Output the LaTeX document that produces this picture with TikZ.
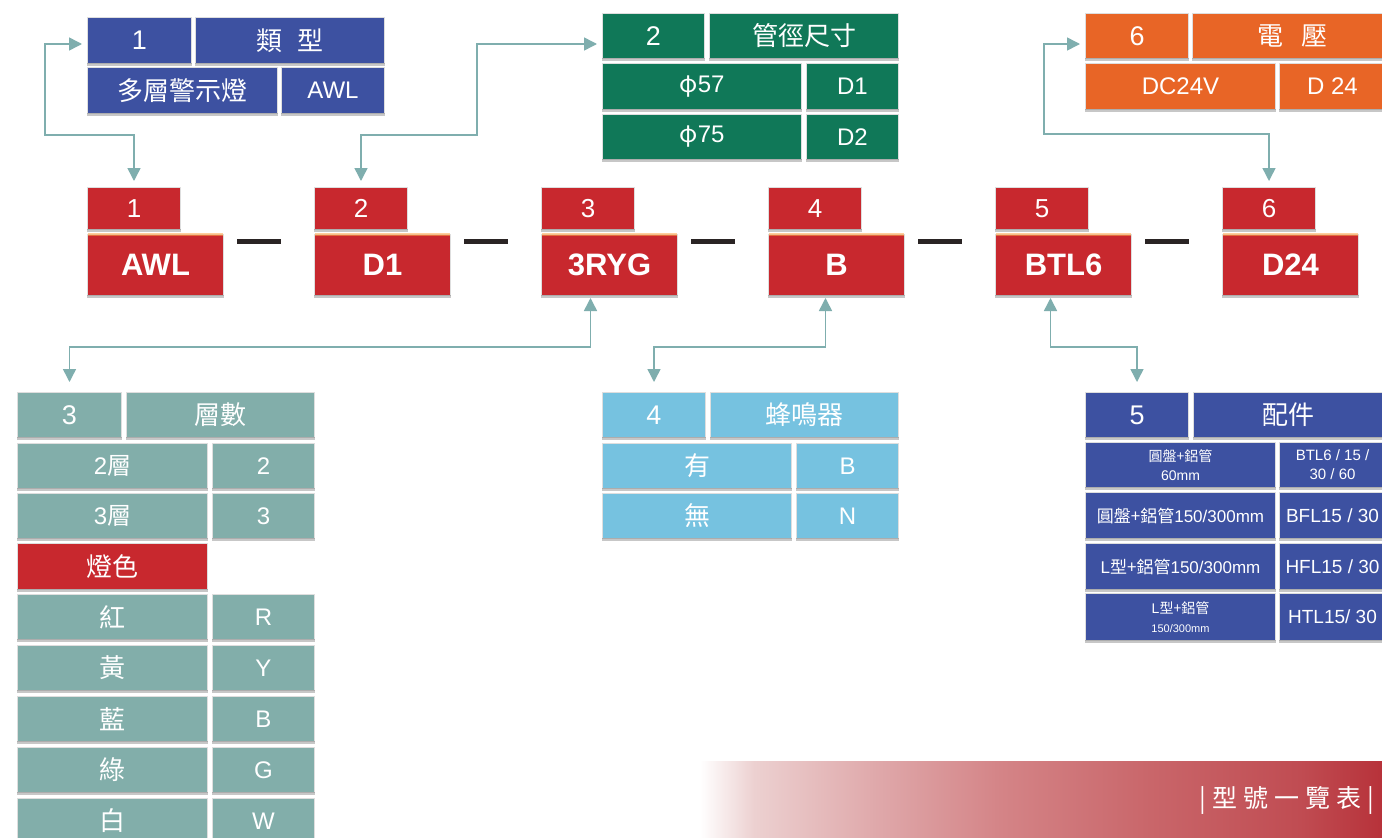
\documentclass[tikz,border=0pt]{standalone}
\usepackage{fontspec}
\setmainfont{Liberation Sans}
\newfontfamily\cjk{Noto Sans CJK TC}
\newfontfamily\cjkwide[LetterSpace=24]{Noto Sans CJK TC}
\usetikzlibrary{arrows.meta}

\definecolor{tblue}{RGB}{61,81,161}
\definecolor{tgreen}{RGB}{16,120,88}
\definecolor{torange}{RGB}{232,101,38}
\definecolor{cred}{RGB}{200,40,46}
\definecolor{tgrey}{RGB}{130,174,170}
\definecolor{tsky}{RGB}{118,194,224}
\definecolor{linkc}{RGB}{127,174,174}
\definecolor{joinc}{RGB}{42,36,36}
\definecolor{bnA}{RGB}{236,208,208}
\definecolor{bnB}{RGB}{223,168,170}
\definecolor{bnC}{RGB}{212,132,135}
\definecolor{bnD}{RGB}{201,102,106}
\definecolor{bnE}{RGB}{192,76,82}
\definecolor{bnF}{RGB}{183,50,58}
\pgfdeclarehorizontalshading{banner}{100bp}{color(0bp)=(white); color(25bp)=(white); color(29bp)=(bnA); color(38bp)=(bnB); color(47bp)=(bnC); color(58bp)=(bnD); color(69bp)=(bnE); color(75bp)=(bnF); color(100bp)=(bnF)}

\tikzset{
  cell/.style={rectangle, anchor=north west, inner sep=0pt, fill=#1, draw=black!13, line width=1pt,
    text=white, font=\fontsize{24}{28}\selectfont,
    append after command={(\tikzlastnode.south west) edge[bevel] (\tikzlastnode.south east)}},
  bevel/.style={draw=black, draw opacity=.22, line width=3pt},
  lit/.style={append after command={([xshift=1pt]\tikzlastnode.north west) edge[rim] ([xshift=-1pt]\tikzlastnode.north east)}},
  rim/.style={draw=orange!70!white, draw opacity=.55, line width=3pt},
  sz/.style 2 args={minimum width=#1pt, minimum height=#2pt},
  hd/.style={font=\fontsize{27}{30}\selectfont},
  cjkhd/.style={font=\cjk\fontsize{26}{30}\selectfont},
  codebig/.style={font=\bfseries\fontsize{31}{34}\selectfont},
  codenum/.style={font=\fontsize{26}{28}\selectfont},
  small/.style={font=\fontsize{17}{20}\selectfont},
  link/.style={draw=linkc, line width=1.5pt, <->, >={Triangle[length=13pt,width=13pt]}},
  joiner/.style={draw=joinc, line width=5pt}
}

\begin{document}
\begin{tikzpicture}[x=1pt,y=1pt,yscale=-1]
    \useasboundingbox[fill=white] (0,0) rectangle (1382,838);

    % code row
    \node[cell=cred, sz={93}{42}, codenum] (c1n) at (87,187) {1};
    \node[cell=cred, sz={136}{61}, codebig, lit] (c1b) at (87,234) {AWL};
    \node[cell=cred, sz={93}{42}, codenum] (c2n) at (314,187) {2};
    \node[cell=cred, sz={136}{61}, codebig, lit] (c2b) at (314,234) {D1};
    \node[cell=cred, sz={93}{42}, codenum] (c3n) at (541,187) {3};
    \node[cell=cred, sz={136}{61}, codebig, lit] (c3b) at (541,234) {3RYG};
    \node[cell=cred, sz={93}{42}, codenum] (c4n) at (768,187) {4};
    \node[cell=cred, sz={136}{61}, codebig, lit] (c4b) at (768,234) {B};
    \node[cell=cred, sz={93}{42}, codenum] (c5n) at (995,187) {5};
    \node[cell=cred, sz={136}{61}, codebig, lit] (c5b) at (995,234) {BTL6};
    \node[cell=cred, sz={93}{42}, codenum] (c6n) at (1222,187) {6};
    \node[cell=cred, sz={136}{61}, codebig, lit] (c6b) at (1222,234) {D24};

    \draw[joiner] (c1b.north east) ++(13,7) -- ++(44,0);
    \draw[joiner] (c2b.north east) ++(13,7) -- ++(44,0);
    \draw[joiner] (c3b.north east) ++(13,7) -- ++(44,0);
    \draw[joiner] (c4b.north east) ++(13,7) -- ++(44,0);
    \draw[joiner] (c5b.north east) ++(13,7) -- ++(44,0);

    % table 1
    \node[cell=tblue, sz={104}{46}, hd] (t1n) at (87,17) {1};
    \node[cell=tblue, sz={189}{46}, cjkhd] (t1h) at (195,17) {類\hspace{16pt}型};
    \node[cell=tblue, sz={190}{46}, cjkhd] (t1a) at (87,67) {多層警示燈};
    \node[cell=tblue, sz={103}{46}] (t1b) at (281,67) {AWL};

    % table 2
    \node[cell=tgreen, sz={102}{45}, hd] (t2n) at (602,13) {2};
    \node[cell=tgreen, sz={189}{45}, cjkhd] (t2h) at (709,13) {管徑尺寸};
    \node[cell=tgreen, sz={199}{46}] (t2a) at (602,63) {{\cjk φ}57};
    \node[cell=tgreen, sz={92}{46}] (t2b) at (806,63) {D1};
    \node[cell=tgreen, sz={199}{45}] (t2c) at (602,114) {{\cjk φ}75};
    \node[cell=tgreen, sz={92}{45}] (t2d) at (806,114) {D2};

    % table 6
    \node[cell=torange, sz={103}{45}, hd] (t6n) at (1085,13) {6};
    \node[cell=torange, sz={200}{45}, cjkhd] (t6h) at (1192,13) {電\hspace{18pt}壓};
    \node[cell=torange, sz={190}{46}] (t6a) at (1085,63) {DC24V};
    \node[cell=torange, sz={106}{46}] (t6b) at (1279,63) {D 24};

    % table 3
    \node[cell=tgrey, sz={104}{45}, hd] (t3n) at (17,392) {3};
    \node[cell=tgrey, sz={188}{45}, cjkhd] (t3h) at (126,392) {層數};
    \node[cell=tgrey, sz={190}{45}] (t3a) at (17,443) {2{\cjk 層}};
    \node[cell=tgrey, sz={102}{45}] (t3b) at (212,443) {2};
    \node[cell=tgrey, sz={190}{45}] (t3c) at (17,493) {3{\cjk 層}};
    \node[cell=tgrey, sz={102}{45}] (t3d) at (212,493) {3};
    \node[cell=cred, sz={190}{46}, cjkhd] (t3e) at (17,543) {燈色};
    \node[cell=tgrey, sz={190}{45}, cjkhd] (t3f) at (17,594) {紅};
    \node[cell=tgrey, sz={102}{45}] (t3g) at (212,594) {R};
    \node[cell=tgrey, sz={190}{45}, cjkhd] (t3y) at (17,645) {黃};
    \node[cell=tgrey, sz={102}{45}] (t3i) at (212,645) {Y};
    \node[cell=tgrey, sz={190}{45}, cjkhd] (t3j) at (17,696) {藍};
    \node[cell=tgrey, sz={102}{45}] (t3k) at (212,696) {B};
    \node[cell=tgrey, sz={190}{45}, cjkhd] (t3l) at (17,747) {綠};
    \node[cell=tgrey, sz={102}{45}] (t3m) at (212,747) {G};
    \node[cell=tgrey, sz={190}{45}, cjkhd] (t3o) at (17,798) {白};
    \node[cell=tgrey, sz={102}{45}] (t3p) at (212,798) {W};

    % table 4
    \node[cell=tsky, sz={103}{45}, hd] (t4n) at (602,392) {4};
    \node[cell=tsky, sz={188}{45}, cjkhd] (t4h) at (710,392) {蜂鳴器};
    \node[cell=tsky, sz={189}{45}, cjkhd] (t4a) at (602,443) {有};
    \node[cell=tsky, sz={102}{45}] (t4b) at (796,443) {B};
    \node[cell=tsky, sz={189}{45}, cjkhd] (t4c) at (602,493) {無};
    \node[cell=tsky, sz={102}{45}] (t4d) at (796,493) {N};

    % table 5
    \node[cell=tblue, sz={103}{45}, hd] (t5n) at (1085,392) {5};
    \node[cell=tblue, sz={190}{45}, cjkhd] (t5h) at (1193,392) {配件};
    \node[cell=tblue, sz={190}{45}, align=center, font=\fontsize{14}{19}\selectfont] (t5a) at (1085,442) {{\cjk 圓盤+鋁管}\\60mm};
    \node[cell=tblue, sz={106}{45}, align=center, font=\fontsize{15}{19}\selectfont] (t5b) at (1279,442) {BTL6 / 15 /\\30 / 60};
    \node[cell=tblue, sz={190}{46}, small] (t5c) at (1085,492) {{\cjk 圓盤+鋁管}150/300mm};
    \node[cell=tblue, sz={106}{46}, font=\fontsize{19}{22}\selectfont] (t5d) at (1279,492) {BFL15 / 30};
    \node[cell=tblue, sz={190}{46}, small] (t5e) at (1085,543) {L{\cjk 型+鋁管}150/300mm};
    \node[cell=tblue, sz={106}{46}, font=\fontsize{19}{22}\selectfont] (t5f) at (1279,543) {HFL15 / 30};
    \node[cell=tblue, sz={190}{47}, align=center, font=\fontsize{14}{19}\selectfont] (t5g) at (1085,593) {L{\cjk 型+鋁管}\\{\fontsize{11}{13}\selectfont 150/300mm}};
    \node[cell=tblue, sz={106}{47}, font=\fontsize{19}{22}\selectfont] (t5k) at (1279,593) {HTL15/ 30};

    % connectors
    \coordinate (k1) at (45,135);
    \coordinate (k1a) at (45,44);
    \coordinate (k2) at (477,135);
    \coordinate (k2a) at (477,44);
    \coordinate (k6) at (1044,134);
    \coordinate (k6a) at (1044,44);
    \draw[link, shorten <=6pt, shorten >=5pt] (c1n.north) |- (k1) -- (k1a) -- (k1a -| t1n.west);
    \draw[link, shorten <=6pt, shorten >=5pt] (c2n.north) |- (k2) -- (k2a) -- (k2a -| t2n.west);
    \draw[link, shorten <=6pt, shorten >=5pt] (c6n.north) |- (k6) -- (k6a) -- (k6a -| t6n.west);
    \draw[link, shorten <=2pt, shorten >=10pt] ([xshift=-19pt]c3b.south) -- ++(0,51) -| (t3n.north);
    \draw[link, shorten <=2pt, shorten >=10pt] ([xshift=-11pt]c4b.south) -- ++(0,51) -| (t4n.north);
    \draw[link, shorten <=2pt, shorten >=10pt] ([xshift=-13pt]c5b.south) -- ++(0,51) -| (t5n.north);

    % banner
    \shade[shading=banner] (700,761) rectangle (1382,840);
    \node[font=\cjkwide\fontsize{25}{28}\selectfont, text=white] (title) at (1287,800) {|型號一覽表|};
\end{tikzpicture}
\end{document}
